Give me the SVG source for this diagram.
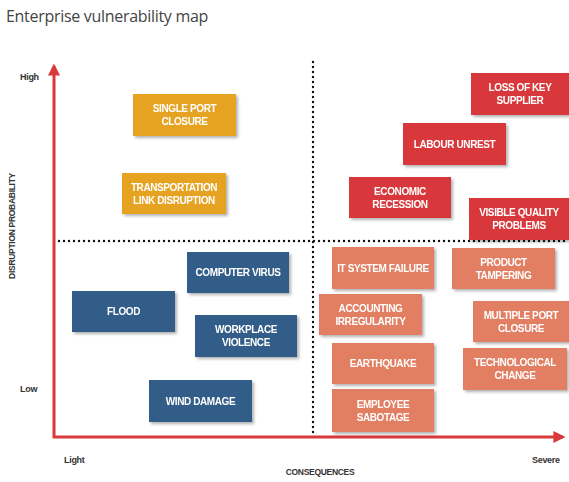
<svg xmlns="http://www.w3.org/2000/svg" width="569" height="482" viewBox="0 0 569 482">
<style>
.lbl{font-family:"Liberation Sans",Arial,sans-serif;font-weight:bold;font-size:10px;fill:#fff;text-anchor:middle;letter-spacing:-0.4px}
.ax{font-family:"Liberation Sans",Arial,sans-serif;font-weight:bold;font-size:9px;fill:#333;letter-spacing:-0.3px}
.o{fill:#e6a324}.r{fill:#d8393a}.b{fill:#335d88}.s{fill:#e27e62}
.dot{stroke:#111;stroke-width:2.4;stroke-dasharray:0 5;stroke-linecap:round;fill:none}
.axis{stroke:#d8393a;stroke-width:3;fill:none}
</style>
<defs>
<filter id="sh" x="-10%" y="-10%" width="130%" height="140%">
<feDropShadow dx="2" dy="2" stdDeviation="1.8" flood-color="#000" flood-opacity="0.3"/>
</filter>
<marker id="ah" viewBox="0 0 10 10" refX="8" refY="5" markerWidth="4" markerHeight="4" orient="auto">
<path d="M0,0 L10,5 L0,10 z" fill="#d8393a"/>
</marker>
</defs>
<rect width="569" height="482" fill="#fff"/>
<text x="6" y="22" style="font-family:'Open Sans','Liberation Sans',sans-serif;font-size:16px;fill:#444;letter-spacing:-0.3px">Enterprise vulnerability map</text>

<g id="axes">
<line class="dot" x1="59" y1="241" x2="569" y2="241"/>
<line class="dot" x1="313" y1="62" x2="313" y2="436"/>
<line class="axis" x1="54" y1="438" x2="54" y2="66" marker-end="url(#ah)"/>
<line class="axis" x1="53" y1="437" x2="563" y2="437" marker-end="url(#ah)"/>
<text class="ax" x="20" y="80">High</text>
<text class="ax" x="20" y="392">Low</text>
<text class="ax" x="64" y="463">Light</text>
<text class="ax" x="532" y="463">Severe</text>
<text class="ax" x="320" y="475" text-anchor="middle" style="font-size:8.5px">CONSEQUENCES</text>
<text class="ax" transform="translate(15,226) rotate(-90)" text-anchor="middle" style="font-size:8.5px">DISRUPTION PROBABILITY</text>
</g>

<g filter="url(#sh)">
<g id="single-port-closure"><rect class="o" x="133" y="94" width="103" height="42"/><text class="lbl" x="184.5" y="112">SINGLE PORT</text><text class="lbl" x="184.5" y="125">CLOSURE</text></g>
<g id="transportation-link"><rect class="o" x="122" y="173" width="104" height="41"/><text class="lbl" x="174" y="190.5">TRANSPORTATION</text><text class="lbl" x="174" y="203.5">LINK DISRUPTION</text></g>

<g id="loss-of-key-supplier"><rect class="r" x="471" y="73" width="98" height="42"/><text class="lbl" x="520" y="91">LOSS OF KEY</text><text class="lbl" x="520" y="104">SUPPLIER</text></g>
<g id="labour-unrest"><rect class="r" x="403" y="123" width="103" height="42"/><text class="lbl" x="454.5" y="147.5">LABOUR UNREST</text></g>
<g id="economic-recession"><rect class="r" x="349" y="177" width="102" height="41"/><text class="lbl" x="400" y="194.5">ECONOMIC</text><text class="lbl" x="400" y="207.5">RECESSION</text></g>
<g id="visible-quality"><rect class="r" x="469" y="198" width="100" height="42"/><text class="lbl" x="519" y="216">VISIBLE QUALITY</text><text class="lbl" x="519" y="229">PROBLEMS</text></g>

<g id="computer-virus"><rect class="b" x="187" y="252" width="102" height="41"/><text class="lbl" x="238" y="276">COMPUTER VIRUS</text></g>
<g id="flood"><rect class="b" x="72" y="291" width="103" height="41"/><text class="lbl" x="123.5" y="315">FLOOD</text></g>
<g id="workplace-violence"><rect class="b" x="195" y="315" width="102" height="42"/><text class="lbl" x="246" y="333">WORKPLACE</text><text class="lbl" x="246" y="346">VIOLENCE</text></g>
<g id="wind-damage"><rect class="b" x="149" y="380" width="103" height="42"/><text class="lbl" x="200.5" y="404.5">WIND DAMAGE</text></g>

<g id="it-system-failure"><rect class="s" x="332" y="247" width="102" height="42"/><text class="lbl" x="383" y="271.5">IT SYSTEM FAILURE</text></g>
<g id="product-tampering"><rect class="s" x="452" y="248" width="103" height="41"/><text class="lbl" x="503.5" y="265.5">PRODUCT</text><text class="lbl" x="503.5" y="278.5">TAMPERING</text></g>
<g id="accounting-irregularity"><rect class="s" x="319" y="294" width="103" height="41"/><text class="lbl" x="370.5" y="311.5">ACCOUNTING</text><text class="lbl" x="370.5" y="324.5">IRREGULARITY</text></g>
<g id="multiple-port-closure"><rect class="s" x="473" y="301" width="96" height="41"/><text class="lbl" x="521" y="318.5">MULTIPLE PORT</text><text class="lbl" x="521" y="331.5">CLOSURE</text></g>
<g id="earthquake"><rect class="s" x="332" y="343" width="102" height="41"/><text class="lbl" x="383" y="367">EARTHQUAKE</text></g>
<g id="technological-change"><rect class="s" x="463" y="348" width="104" height="42"/><text class="lbl" x="515" y="366">TECHNOLOGICAL</text><text class="lbl" x="515" y="379">CHANGE</text></g>
<g id="employee-sabotage"><rect class="s" x="332" y="389" width="102" height="43"/><text class="lbl" x="383" y="407.5">EMPLOYEE</text><text class="lbl" x="383" y="420.5">SABOTAGE</text></g>
</g>
</svg>
